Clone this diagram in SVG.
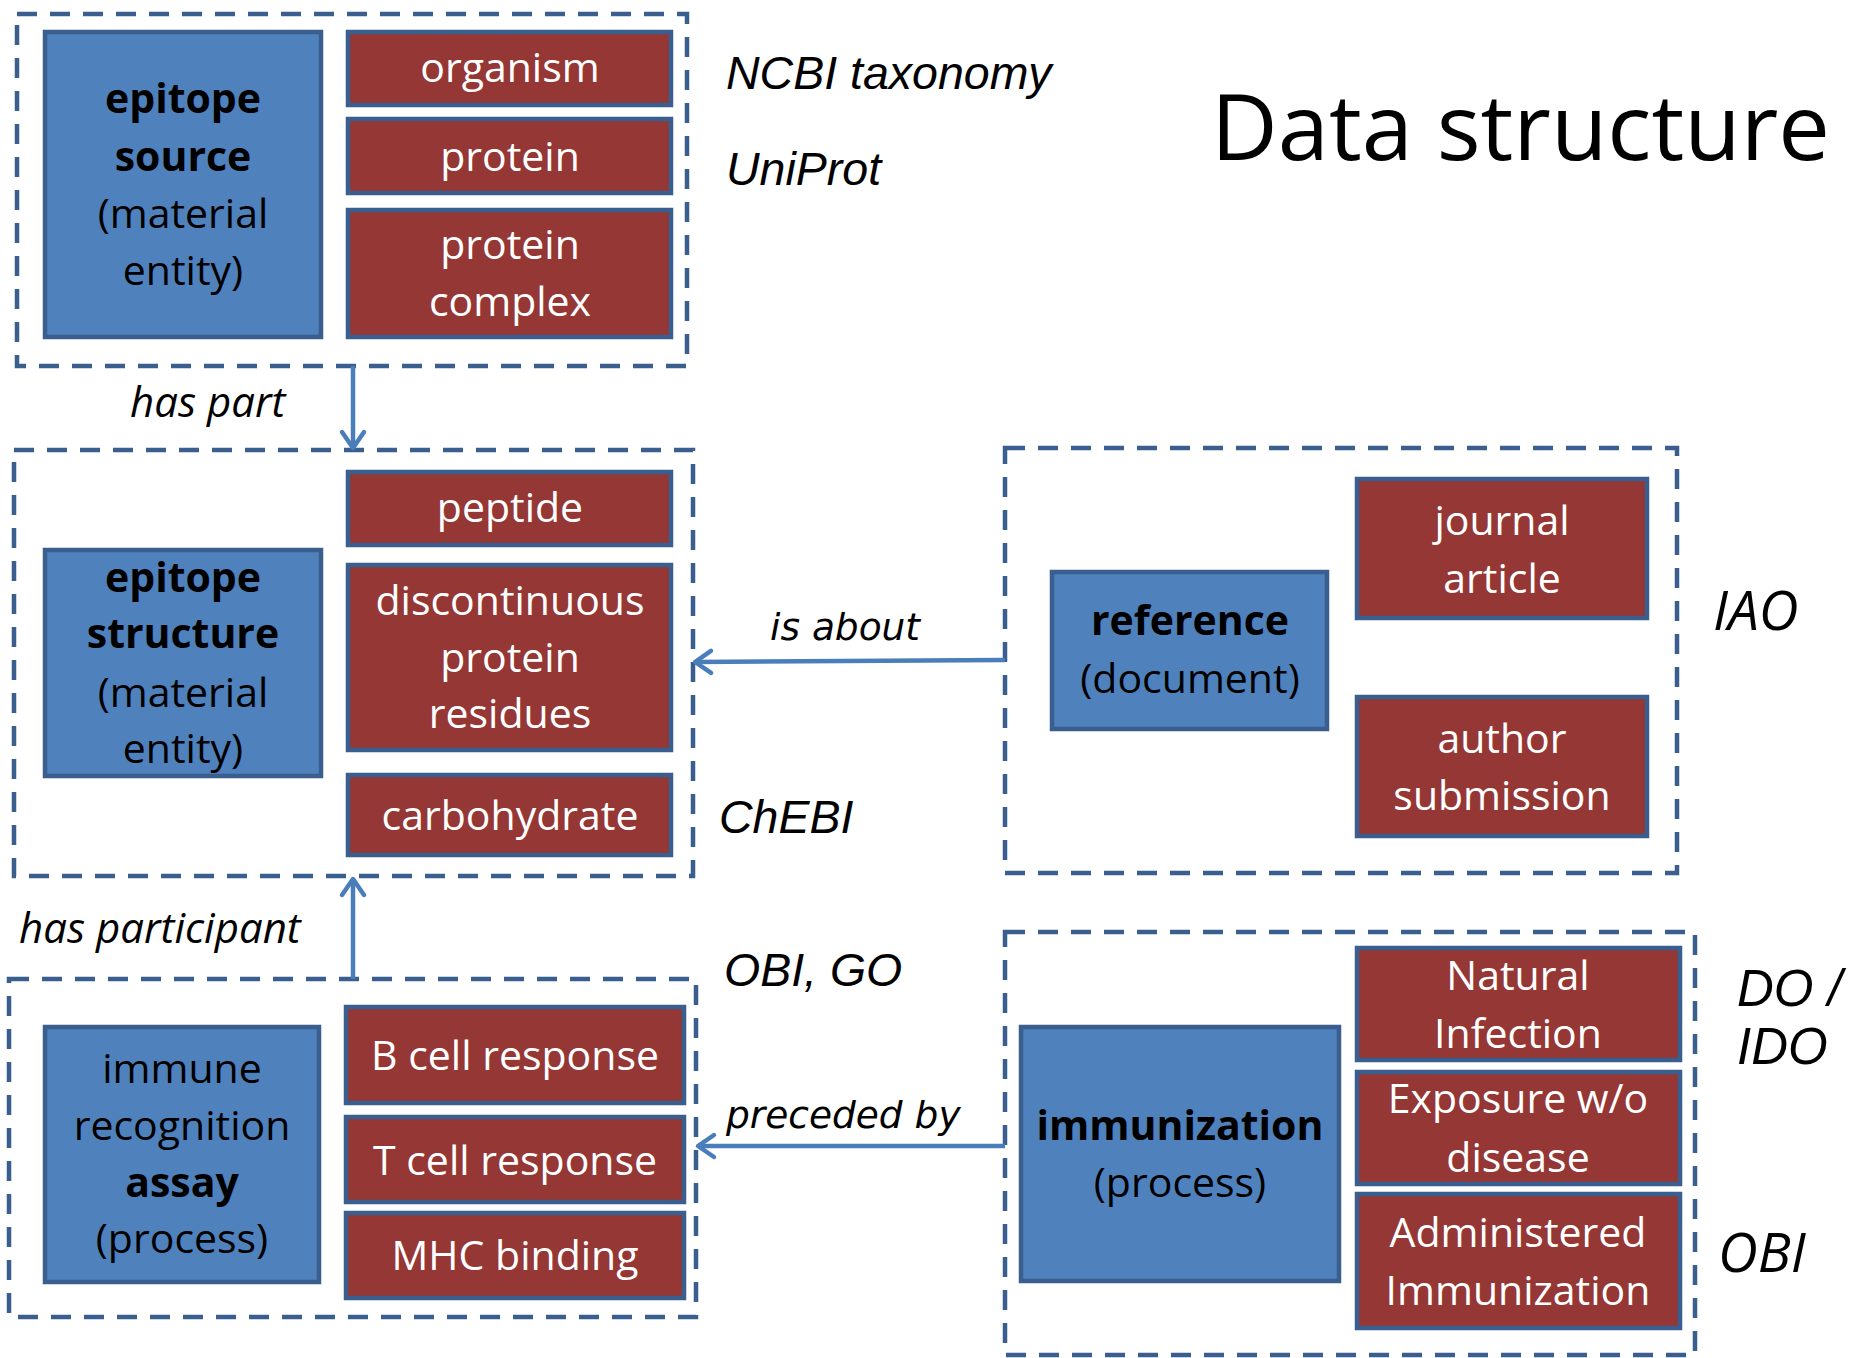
<svg xmlns="http://www.w3.org/2000/svg" width="1858" height="1358" viewBox="0 0 1858 1358">
<defs>
<marker id="arr" markerUnits="userSpaceOnUse" markerWidth="30" markerHeight="30" viewBox="-20 -15 24 30" refX="0" refY="0" orient="auto">
<path d="M-16,-11 L0,0 L-16,11" fill="none" stroke="#4A7EBB" stroke-width="4.5" stroke-linecap="round" stroke-linejoin="round"/>
</marker>
</defs>
<style>
.grp{fill:none;stroke:#3A5F8E;stroke-width:4.5;stroke-dasharray:20 13}
.blue{fill:#4F81BD;stroke:#3A5F8E;stroke-width:4.5}
.red{fill:#953735;stroke:#3A5F8E;stroke-width:4.5}
.bt{font-family:"Open Sans","Noto Sans",sans-serif;font-size:41px;fill:#000;text-anchor:middle}
.b{font-weight:bold}
.rt{font-family:"Open Sans","Noto Sans",sans-serif;font-size:41px;fill:#fff;text-anchor:middle}
.ont{font-family:"Liberation Sans",Arial,sans-serif;font-style:italic;font-size:46.5px;fill:#000}
.cal{font-family:"Open Sans","Noto Sans",sans-serif;font-style:italic;font-size:42px;fill:#000}
.big{font-size:55px}
.do{font-family:"Liberation Sans",Arial,sans-serif;font-style:italic;font-size:51px;fill:#000}
.rel{font-family:"DejaVu Sans",Verdana,sans-serif;font-style:oblique;font-size:37.5px;fill:#000}
.con{fill:none;stroke:#4A7EBB;stroke-width:4.5;marker-end:url(#arr)}
</style>
<rect width="1858" height="1358" fill="#fff"/>
<text x="1211" y="160" font-family="Open Sans, Noto Sans, sans-serif" font-size="92" fill="#000">Data structure</text>

<g id="group-source">
<rect class="grp" x="17" y="14" width="670" height="352"/>
<g id="epitope-source"><rect class="blue" x="45" y="32" width="276" height="305"/>
<text class="bt b" x="183" y="113">epitope</text><text class="bt b" x="183" y="171">source</text>
<text class="bt" x="183" y="228">(material</text><text class="bt" x="183" y="285">entity)</text></g>
<g id="organism"><rect class="red" x="348" y="32" width="323" height="73"/><text class="rt" x="510" y="82">organism</text></g>
<g id="protein"><rect class="red" x="348" y="119" width="323" height="74"/><text class="rt" x="510" y="171">protein</text></g>
<g id="protein-complex"><rect class="red" x="348" y="210" width="323" height="127"/><text class="rt" x="510" y="259">protein</text><text class="rt" x="510" y="316">complex</text></g>
</g>

<g id="group-structure">
<rect class="grp" x="14" y="450" width="679" height="426"/>
<g id="epitope-structure"><rect class="blue" x="45" y="550" width="276" height="226"/>
<text class="bt b" x="183" y="592">epitope</text><text class="bt b" x="183" y="648" font-size="39">structure</text>
<text class="bt" x="183" y="707">(material</text><text class="bt" x="183" y="763">entity)</text></g>
<g id="peptide"><rect class="red" x="348" y="472" width="323" height="73"/><text class="rt" x="510" y="522">peptide</text></g>
<g id="discontinuous"><rect class="red" x="348" y="565" width="323" height="185"/><text class="rt" x="510" y="615">discontinuous</text><text class="rt" x="510" y="672">protein</text><text class="rt" x="510" y="728">residues</text></g>
<g id="carbohydrate"><rect class="red" x="348" y="775" width="323" height="80"/><text class="rt" x="510" y="830">carbohydrate</text></g>
</g>

<g id="group-assay">
<rect class="grp" x="9" y="979" width="687" height="338"/>
<g id="assay"><rect class="blue" x="45" y="1027" width="274" height="255"/>
<text class="bt" x="182" y="1083">immune</text><text class="bt" x="182" y="1140">recognition</text>
<text class="bt b" x="182" y="1197">assay</text><text class="bt" x="182" y="1253">(process)</text></g>
<g id="bcell"><rect class="red" x="346" y="1007" width="338" height="96"/><text class="rt" x="515" y="1070">B cell response</text></g>
<g id="tcell"><rect class="red" x="346" y="1117" width="338" height="85"/><text class="rt" x="515" y="1175">T cell response</text></g>
<g id="mhc"><rect class="red" x="346" y="1213" width="338" height="85"/><text class="rt" x="515" y="1270">MHC binding</text></g>
</g>

<g id="group-reference">
<rect class="grp" x="1005" y="448" width="672" height="425"/>
<g id="reference"><rect class="blue" x="1052" y="572" width="275" height="157"/>
<text class="bt b" x="1190" y="635" font-size="40">reference</text><text class="bt" x="1190" y="693">(document)</text></g>
<g id="journal"><rect class="red" x="1357" y="479" width="290" height="139"/><text class="rt" x="1502" y="535">journal</text><text class="rt" x="1502" y="593">article</text></g>
<g id="author"><rect class="red" x="1357" y="697" width="290" height="139"/><text class="rt" x="1502" y="753">author</text><text class="rt" x="1502" y="810">submission</text></g>
</g>

<g id="group-immunization">
<rect class="grp" x="1005" y="932" width="690" height="423"/>
<g id="immunization"><rect class="blue" x="1021" y="1027" width="318" height="254"/>
<text class="bt b" x="1180" y="1140" font-size="39">immunization</text><text class="bt" x="1180" y="1197">(process)</text></g>
<g id="natural"><rect class="red" x="1357" y="948" width="323" height="112"/><text class="rt" x="1518" y="990">Natural</text><text class="rt" x="1518" y="1048">Infection</text></g>
<g id="exposure"><rect class="red" x="1357" y="1072" width="323" height="112"/><text class="rt" x="1518" y="1113">Exposure w/o</text><text class="rt" x="1518" y="1172">disease</text></g>
<g id="administered"><rect class="red" x="1357" y="1194" width="323" height="134"/><text class="rt" x="1518" y="1247">Administered</text><text class="rt" x="1518" y="1305">Immunization</text></g>
</g>

<g id="connectors">
<line class="con" x1="353" y1="366" x2="353" y2="448"/>
<line class="con" x1="353" y1="979" x2="353" y2="879"/>
<line class="con" x1="1005" y1="660" x2="695" y2="662"/>
<line class="con" x1="1005" y1="1146" x2="698" y2="1146"/>
<text class="cal" x="130" y="417">has part</text>
<text class="cal" x="19" y="943" font-size="43">has participant</text>
<text class="rel" x="770" y="640">is about</text>
<text class="rel" x="726" y="1128">preceded by</text>
</g>

<g id="ontology-labels">
<text class="ont" x="726" y="89">NCBI taxonomy</text>
<text class="ont" x="726" y="185">UniProt</text>
<text class="ont" x="719" y="833">ChEBI</text>
<text class="ont" x="724" y="986">OBI, GO</text>
<text class="cal big" x="1713" y="630">IAO</text>
<text class="do" x="1737" y="1006">DO /</text>
<text class="do" x="1737" y="1064">IDO</text>
<text class="cal big" x="1718" y="1272">OBI</text>
</g>
</svg>
